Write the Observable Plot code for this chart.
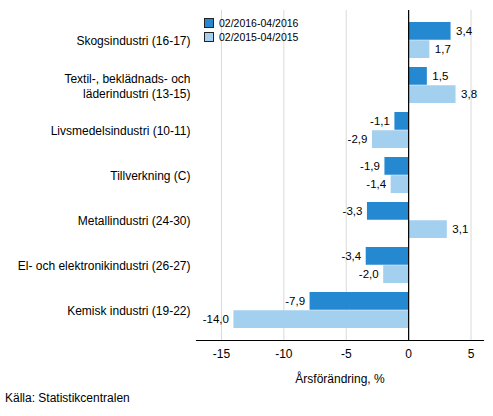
<!DOCTYPE html>
<html>
<head>
<meta charset="utf-8">
<script src="https://cdn.jsdelivr.net/npm/d3@7"></script>
<script src="https://cdn.jsdelivr.net/npm/@observablehq/plot@0.6"></script>
<style>
  body { margin: 0; background: #fff; font-family: Arial, "Liberation Sans", sans-serif; }
  #wrap { position: relative; width: 493px; height: 416px; }
  #legend { position: absolute; left: 204px; top: 16px; font-size: 10.5px; color: #000; }
  #legend div { display: flex; align-items: center; height: 14px; }
  #legend span.sw { width: 8px; height: 8px; border: 1px solid #222; margin-right: 5px; display: inline-block; }
  #source { position: absolute; left: 5px; top: 391px; font-size: 12px; color: #000; }
</style>
</head>
<body>
<div id="wrap">
  <div id="chart"></div>
  <div id="legend"></div>
  <div id="source">Källa: Statistikcentralen</div>
</div>
<script>
// ---------- Data ----------
const categories = [
  "Skogsindustri (16-17)",
  "Textil-, beklädnads- och\nläderindustri (13-15)",
  "Livsmedelsindustri (10-11)",
  "Tillverkning (C)",
  "Metallindustri (24-30)",
  "El- och elektronikindustri (26-27)",
  "Kemisk industri (19-22)"
];
const seriesNames = ["02/2016-04/2016", "02/2015-04/2015"];
const values2016 = [3.4, 1.5, -1.1, -1.9, -3.3, -3.4, -7.9];
const values2015 = [1.7, 3.8, -2.9, -1.4, 3.1, -2.0, -14.0];
const xTicks = [-15, -10, -5, 0, 5];
const colors = ["#2589d2", "#a4d0ef"];

// ---------- Table ----------
const rows = [];
categories.forEach((c, i) => {
  rows.push({category: c, series: seriesNames[0], value: values2016[i], s: 0});
  rows.push({category: c, series: seriesNames[1], value: values2015[i], s: 1});
});
const fmt = v => v.toFixed(1).replace(".", ",");
const half = 18.25;

// value label for one series / sign combination
const valueLabels = (s, pos) => Plot.text(rows.filter(d => d.s === s && (d.value >= 0) === pos), {
  x: "value", y: "category", text: d => fmt(d.value),
  dy: s === 0 ? -9 : 9,
  textAnchor: pos ? "start" : "end", dx: pos ? 5 : -5,
  fontSize: 11.5, fill: "#000"
});

const chart = Plot.plot({
  width: 493, height: 390,
  marginLeft: 196, marginRight: 10, marginTop: 10, marginBottom: 50,
  style: {fontFamily: "Arial, 'Liberation Sans', sans-serif", fontSize: "12px", color: "#000"},
  x: {domain: [-17, 6]},
  y: {domain: categories, paddingInner: 0.2, paddingOuter: 0.22},
  marks: [
    Plot.gridX(xTicks, {stroke: "#d9d9d9", strokeOpacity: 1}),
    Plot.barX(rows.filter(d => d.s === 0), {x: "value", y: "category", fill: colors[0], insetBottom: half}),
    Plot.barX(rows.filter(d => d.s === 1), {x: "value", y: "category", fill: colors[1], insetTop: half}),
    Plot.ruleX([0], {stroke: "#000", strokeWidth: 1.2}),
    Plot.frame({anchor: "bottom", stroke: "#000", strokeWidth: 1.2}),
    valueLabels(0, true), valueLabels(0, false),
    valueLabels(1, true), valueLabels(1, false),
    Plot.axisY({tickSize: 0, tickPadding: 6, lineHeight: 1.25, label: null, fontSize: 12}),
    Plot.axisX(xTicks, {
      tickSize: 0, tickPadding: 9, tickFormat: d => String(d), fontSize: 12,
      label: "Årsförändring, %", labelAnchor: "center", labelArrow: "none", labelOffset: 42
    })
  ]
});
document.getElementById("chart").appendChild(chart);

// Legend
const lg = document.getElementById("legend");
seriesNames.forEach((n, i) => {
  const row = document.createElement("div");
  row.innerHTML = `<span class="sw" style="background:${colors[i]}"></span>${n}`;
  lg.appendChild(row);
});
</script>
</body>
</html>
